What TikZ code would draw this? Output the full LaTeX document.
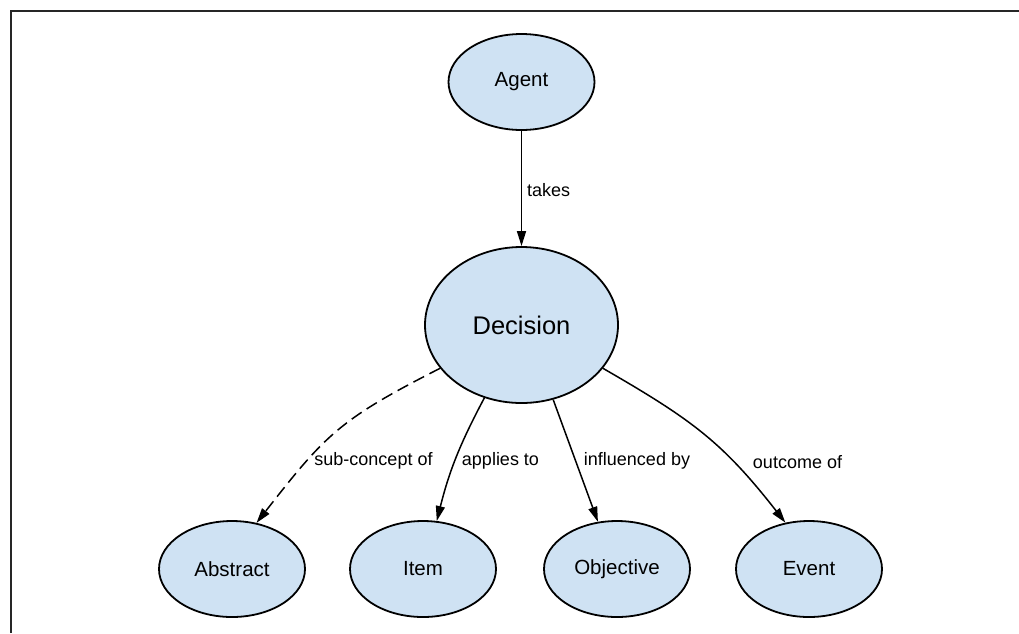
\documentclass[tikz,border=0pt]{standalone}
\usepackage{fontspec}
\setmainfont{Liberation Sans}
\usetikzlibrary{arrows.meta,shapes.geometric}
\definecolor{nodefill}{HTML}{CFE2F3}
\begin{document}
\begin{tikzpicture}[x=1pt,y=-1pt,
  concept/.style={ellipse,draw=black,line width=1.8pt,fill=nodefill,
    minimum width=146pt,minimum height=96pt,inner sep=0pt,
    font=\fontsize{20.5}{24}\selectfont},
  bigconcept/.style={concept,minimum width=193pt,minimum height=156pt,
    font=\fontsize{25.5}{30}\selectfont},
  rel/.style={line width=1.5pt,-{Triangle[length=15pt,width=9pt]}},
  dashrel/.style={rel,dash pattern=on 12pt off 6pt},
  lbl/.style={inner sep=0pt,font=\fontsize{18}{21}\selectfont}]
\useasboundingbox (0,0) rectangle (1019,633);
\draw[line width=1.6pt,black!85] (11,633) -- (11,11) -- (1019,11);

\node[concept] (agent) at (521.5,82) {Agent};
\node[bigconcept] (dec) at (521.5,325) {Decision};
\node[concept] (abs) at (232,569) {Abstract};
\node[concept] (item) at (423,569) {Item};
\node[concept] (obj) at (617,569) {Objective};
\node[concept] (event) at (809,569) {Event};

\draw[rel] (agent) -- (dec);
\draw[dashrel] (dec.208) to[out=207,in=52,looseness=1.2] (abs.62);
\draw[rel] (dec.243) to[out=242,in=76] (item.74);
\draw[rel] (dec.293) -- (obj.112);
\draw[rel] (dec.332) to[out=-30,in=128,looseness=1.1] (event.117);

\node[lbl,anchor=west] (ltakes) at (527,190) {takes};
\node[lbl] (lsub) at (373.5,461) {sub-concept of};
\node[lbl] (lapp) at (500.5,461) {applies to};
\node[lbl] (linf) at (637,461) {influenced by};
\node[lbl] (lout) at (797.5,462) {outcome of};
\end{tikzpicture}
\end{document}
